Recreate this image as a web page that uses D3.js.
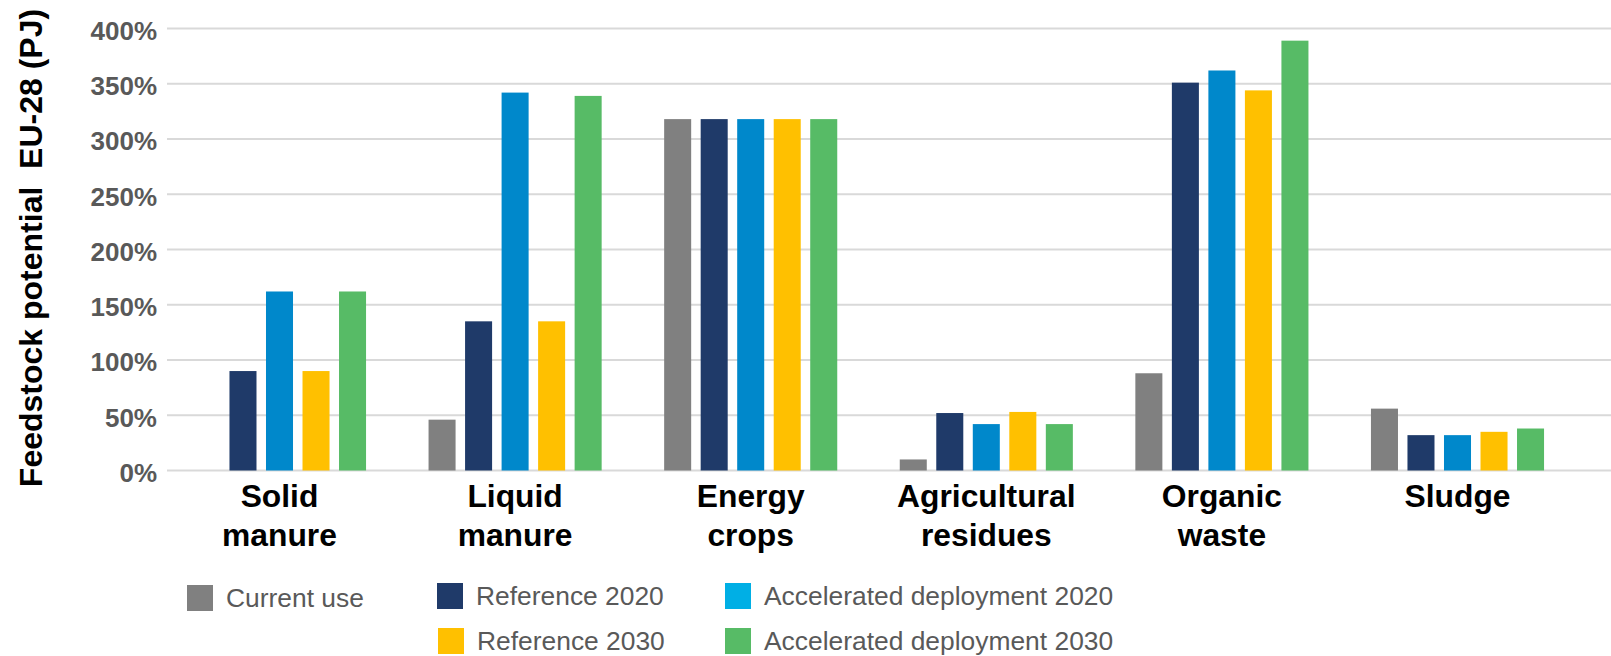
<!DOCTYPE html>
<html>
<head>
<meta charset="utf-8">
<script src="https://cdn.jsdelivr.net/npm/d3@7"></script>
<style>
  html, body { margin: 0; padding: 0; background: #ffffff; }
  svg { display: block; font-family: "Liberation Sans", Arial, sans-serif; }
</style>
</head>
<body>
<svg id="chart" width="1611" height="656"></svg>
<script>
// Feedstock categories (two-line labels)
const categories = ["Solid manure", "Liquid manure", "Energy crops", "Agricultural residues", "Organic waste", "Sludge"];
const categoryLines = [["Solid", "manure"], ["Liquid", "manure"], ["Energy", "crops"], ["Agricultural", "residues"], ["Organic", "waste"], ["Sludge"]];

// Series, in drawing order within each group
const seriesNames = ["Current use", "Reference 2020", "Accelerated deployment 2020", "Reference 2030", "Accelerated deployment 2030"];
const currentUse   = [0,   46,  318, 10,   88,  56];
const reference2020 = [90, 135, 318, 52,  351,  32];
const accelerated2020 = [162, 342, 318, 42, 362, 32];
const reference2030 = [90, 135, 318, 53,  344,  35];
const accelerated2030 = [162, 339, 318, 42, 389, 38];
const seriesValues = [currentUse, reference2020, accelerated2020, reference2030, accelerated2030];

const barColors = ["#808080", "#1f3a69", "#0088cb", "#ffc000", "#57bb66"];
const legendColors = ["#808080", "#1f3a69", "#00afe5", "#ffc000", "#57bb66"];

const yTicks = [0, 50, 100, 150, 200, 250, 300, 350, 400];

const svg = d3.select("#chart");

const plot = { left: 161.7, right: 1575.3, top: 28.5, bottom: 470.5, gridLeft: 167, gridRight: 1611 };

const y = d3.scaleLinear().domain([0, 400]).range([plot.bottom, plot.top]);

const x0 = d3.scaleBand()
  .domain(categories)
  .range([plot.left, plot.right])
  .paddingInner(0.225)
  .paddingOuter(0.1125);

const x1 = d3.scaleBand()
  .domain(seriesNames)
  .range([0, x0.bandwidth()])
  .paddingInner(0.26)
  .paddingOuter(0.13);

// Horizontal gridlines
svg.append("g")
  .selectAll("line")
  .data(yTicks)
  .join("line")
  .attr("x1", plot.gridLeft)
  .attr("x2", plot.gridRight)
  .attr("y1", d => y(d))
  .attr("y2", d => y(d))
  .attr("stroke", "#d9d9d9")
  .attr("stroke-width", 2);

// Y axis labels
const yAxis = d3.axisLeft(y)
  .tickValues(yTicks)
  .tickFormat(d => d + "%")
  .tickSize(0)
  .tickPadding(0);

const yAxisG = svg.append("g")
  .attr("transform", "translate(157,0)")
  .call(yAxis);
yAxisG.select(".domain").remove();
yAxisG.selectAll("text")
  .attr("font-family", "'Liberation Sans', Arial, sans-serif")
  .attr("font-size", 26)
  .attr("font-weight", "bold")
  .attr("fill", "#595959")
  .attr("dy", "0.42em");

// Bars
const rows = categories.map((c, i) => ({ category: c, values: seriesNames.map((s, j) => ({ series: s, idx: j, value: seriesValues[j][i] })) }));

svg.append("g")
  .selectAll("g")
  .data(rows)
  .join("g")
  .attr("transform", d => `translate(${x0(d.category)},0)`)
  .selectAll("rect")
  .data(d => d.values.filter(v => v.value > 0))
  .join("rect")
  .attr("x", d => x1(d.series))
  .attr("width", x1.bandwidth())
  .attr("y", d => y(d.value))
  .attr("height", d => y(0) - y(d.value))
  .attr("fill", d => barColors[d.idx]);

// Category labels
const catLabels = svg.append("g")
  .selectAll("text")
  .data(categories)
  .join("text")
  .attr("x", d => x0(d) + x0.bandwidth() / 2)
  .attr("y", 507)
  .attr("text-anchor", "middle")
  .attr("font-size", 31.8)
  .attr("font-weight", "bold")
  .attr("fill", "#000000");
catLabels.each(function(d, i) {
  const t = d3.select(this);
  categoryLines[i].forEach((line, k) => {
    t.append("tspan")
      .attr("x", x0(d) + x0.bandwidth() / 2)
      .attr("dy", k === 0 ? 0 : 38.5)
      .text(line);
  });
});

// Y axis title
svg.append("text")
  .attr("transform", "translate(42,248) rotate(-90)")
  .attr("text-anchor", "middle")
  .attr("font-size", 32)
  .attr("font-weight", "bold")
  .attr("fill", "#000000")
  .attr("xml:space", "preserve")
  .style("white-space", "pre")
  .text("Feedstock potential  EU-28 (PJ)");

// Legend
const legendPos = [
  { x: 187, y: 585 },
  { x: 437, y: 583 },
  { x: 725, y: 583 },
  { x: 438, y: 628 },
  { x: 725, y: 628 }
];

const legend = svg.append("g")
  .selectAll("g")
  .data(seriesNames)
  .join("g")
  .attr("transform", (d, i) => `translate(${legendPos[i].x},${legendPos[i].y})`);

legend.append("rect")
  .attr("width", 26)
  .attr("height", 26)
  .attr("fill", (d, i) => legendColors[i]);

legend.append("text")
  .attr("x", 39)
  .attr("y", 22)
  .attr("font-size", 26.4)
  .attr("fill", "#595959")
  .text(d => d);
</script>
</body>
</html>
